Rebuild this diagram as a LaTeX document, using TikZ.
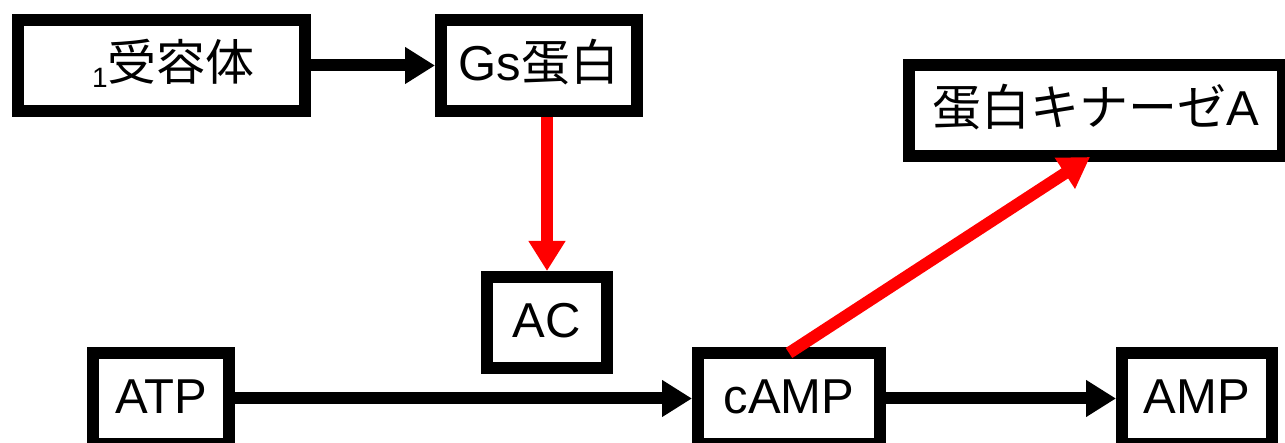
\documentclass[tikz,border=0pt]{standalone}
\usepackage{fontspec}
\setmainfont{Liberation Sans}
\newfontfamily\cjk{Noto Sans CJK JP}
\usetikzlibrary{arrows.meta}
\begin{document}
\begin{tikzpicture}[x=1pt,y=1pt,
  box/.style={draw=black, line width=12pt, fill=white, inner sep=0pt,
    minimum height=91pt, text height=34pt, text depth=4pt,
    font=\fontsize{49pt}{49pt}\selectfont},
  blackarrow/.style={draw=black, line width=12pt, -{Triangle[length=30pt,width=35pt]}},
  redarrow/.style={draw=red, line width=12pt, -{Triangle[length=30pt,width=35pt]}}]
\useasboundingbox (0,0) rectangle (1285,443);
\fill[white] (0,0) rectangle (1285,443);
\clip (0,0) rectangle (1285,443);
\node[box, minimum width=287pt] (R1) at (161.5,377.5) {\hspace*{24pt}\raisebox{-7pt}{\fontsize{28pt}{28pt}\selectfont 1}{\cjk 受容体}};
\node[box, minimum width=196pt] (Gs) at (539,377.5) {Gs{\cjk 蛋白}};
\node[box, minimum width=374pt] (PKA) at (1096,332.5) {{\cjk 蛋白キナーゼ}A};
\node[box, minimum width=120pt] (AC) at (547,120.5) {AC};
\node[box, minimum width=136pt] (ATP) at (161,44.5) {ATP};
\node[box, minimum width=182pt] (cAMP) at (789,44.5) {cAMP};
\node[box, minimum width=150pt] (AMP) at (1197,44.5) {AMP};
\draw[blackarrow] (R1.east) -- (Gs.west);
\draw[blackarrow] (ATP.east) -- (cAMP.west);
\draw[blackarrow] (cAMP.east) -- (AMP.west);
\draw[redarrow] (AC.north |- Gs.south) -- (AC.north);
\draw[redarrow] ([yshift=-6pt]cAMP.north) -- ([xshift=187pt,yshift=5pt]PKA.south west);
\end{tikzpicture}
\end{document}
